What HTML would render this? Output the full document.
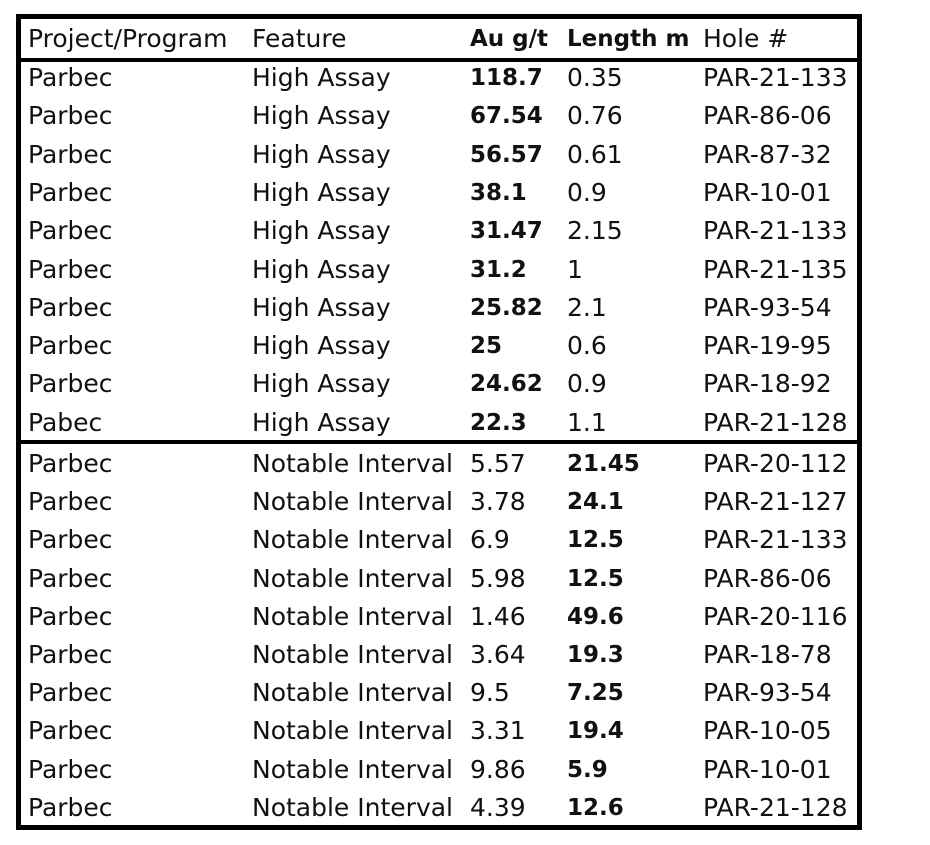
<!DOCTYPE html>
<html><head><meta charset="utf-8"><style>
body{margin:0;width:930px;height:845px;background:#fff;position:relative;font-family:"DejaVu Sans","Liberation Sans",sans-serif;font-size:25px;color:#111;overflow:hidden}
.b{position:absolute;background:#000}
.t{position:absolute;white-space:nowrap;line-height:30px;height:30px}
.bold{font-weight:bold;font-size:23px}
</style></head><body>
<div class="b" style="left:16px;top:14px;width:846px;height:5px"></div>
<div class="b" style="left:16px;top:825px;width:846px;height:5px"></div>
<div class="b" style="left:16px;top:14px;width:5px;height:816px"></div>
<div class="b" style="left:857px;top:14px;width:5px;height:816px"></div>
<div class="b" style="left:16px;top:58px;width:846px;height:4px"></div>
<div class="b" style="left:16px;top:440px;width:846px;height:4px"></div>
<div id="c"></div>
<script>
var rows=[
["Parbec","High Assay","118.7","0.35","PAR-21-133",0],
["Parbec","High Assay","67.54","0.76","PAR-86-06",0],
["Parbec","High Assay","56.57","0.61","PAR-87-32",0],
["Parbec","High Assay","38.1","0.9","PAR-10-01",0],
["Parbec","High Assay","31.47","2.15","PAR-21-133",0],
["Parbec","High Assay","31.2","1","PAR-21-135",0],
["Parbec","High Assay","25.82","2.1","PAR-93-54",0],
["Parbec","High Assay","25","0.6","PAR-19-95",0],
["Parbec","High Assay","24.62","0.9","PAR-18-92",0],
["Pabec","High Assay","22.3","1.1","PAR-21-128",0],
["Parbec","Notable Interval","5.57","21.45","PAR-20-112",1],
["Parbec","Notable Interval","3.78","24.1","PAR-21-127",1],
["Parbec","Notable Interval","6.9","12.5","PAR-21-133",1],
["Parbec","Notable Interval","5.98","12.5","PAR-86-06",1],
["Parbec","Notable Interval","1.46","49.6","PAR-20-116",1],
["Parbec","Notable Interval","3.64","19.3","PAR-18-78",1],
["Parbec","Notable Interval","9.5","7.25","PAR-93-54",1],
["Parbec","Notable Interval","3.31","19.4","PAR-10-05",1],
["Parbec","Notable Interval","9.86","5.9","PAR-10-01",1],
["Parbec","Notable Interval","4.39","12.6","PAR-21-128",1]];
var xs=[28,252,470,567,703],h="";
function cell(x,y,s,b){h+='<div class="t'+(b?' bold':'')+'" style="left:'+x+'px;top:'+(y-15)+'px">'+s+'</div>';}
var hd=["Project/Program","Feature","Au g/t","Length m","Hole #"];
hd.forEach(function(s,i){cell(xs[i],39,s,i==2||i==3);});
rows.forEach(function(r,i){var y=i<10?78+i*38.3:464+(i-10)*38.2;
for(var j=0;j<5;j++)cell(xs[j],y,r[j],(j==2&&!r[5])||(j==3&&r[5]));});
document.getElementById("c").innerHTML=h;
</script>
</body></html>
